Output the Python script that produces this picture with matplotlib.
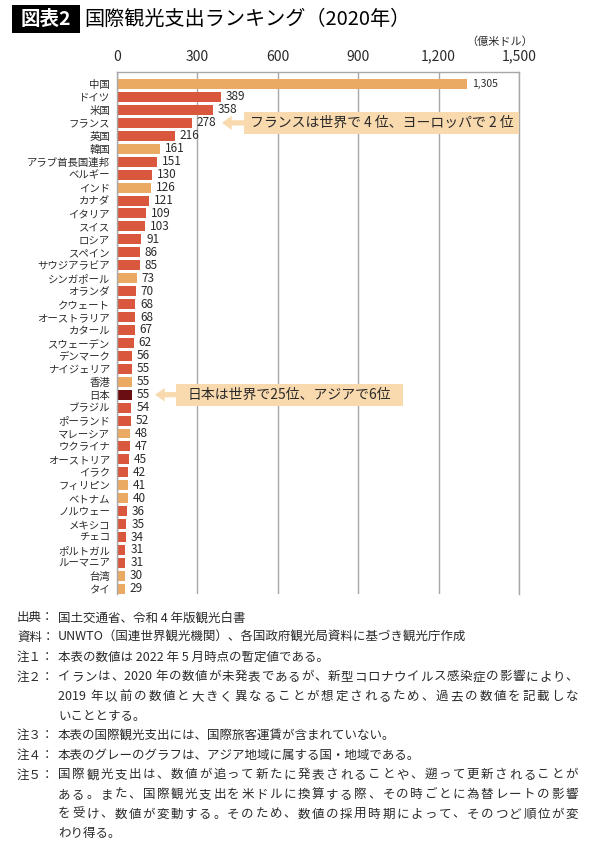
import re
import matplotlib
matplotlib.use('Agg')
import matplotlib.pyplot as plt
from matplotlib.patches import Rectangle, FancyArrow
import numpy as np

plt.rcParams['font.family'] = ['Noto Sans CJK JP', 'DejaVu Sans']

# data (2020, 億米ドル)
countries = ['中国', 'ドイツ', '米国', 'フランス', '英国', '韓国', 'アラブ首長国連邦', 'ベルギー',
             'インド', 'カナダ', 'イタリア', 'スイス', 'ロシア', 'スペイン', 'サウジアラビア',
             'シンガポール', 'オランダ', 'クウェート', 'オーストラリア', 'カタール', 'スウェーデン',
             'デンマーク', 'ナイジェリア', '香港', '日本', 'ブラジル', 'ポーランド', 'マレーシア',
             'ウクライナ', 'オーストリア', 'イラク', 'フィリピン', 'ベトナム', 'ノルウェー',
             'メキシコ', 'チェコ', 'ポルトガル', 'ルーマニア', '台湾', 'タイ']
values = [1305, 389, 358, 278, 216, 161, 151, 130, 126, 121, 109, 103, 91, 86, 85,
          73, 70, 68, 68, 67, 62, 56, 55, 55, 55, 54, 52, 48, 47, 45, 42, 41, 40,
          36, 35, 34, 31, 31, 30, 29]
asia = ['中国', '韓国', 'インド', 'シンガポール', '香港', 'マレーシア', 'フィリピン',
        'ベトナム', '台湾', 'タイ']
xticks = [0, 300, 600, 900, 1200, 1500]
xticklabels = ['0', '300', '600', '900', '1,200', '1,500']

notes = [
    ('出典：', ['国土交通省、令和 4 年版観光白書']),
    ('資料：', ['UNWTO（国連世界観光機関）、各国政府観光局資料に基づき観光庁作成']),
    ('注１：', ['本表の数値は 2022 年 5 月時点の暫定値である。']),
    ('注２：', ['イランは、2020 年の数値が未発表であるが、新型コロナウイルス感染症の影響により、',
              '2019 年以前の数値と大きく異なることが想定されるため、過去の数値を記載しな',
              'いこととする。']),
    ('注３：', ['本表の国際観光支出には、国際旅客運賃が含まれていない。']),
    ('注４：', ['本表のグレーのグラフは、アジア地域に属する国・地域である。']),
    ('注５：', ['国際観光支出は、数値が追って新たに発表されることや、遡って更新されることが',
              'ある。また、国際観光支出を米ドルに換算する際、その時ごとに為替レートの影響',
              'を受け、数値が変動する。そのため、数値の採用時期によって、そのつど順位が変',
              'わり得る。']),
]

RED = '#D9573D'
ORANGE = '#EBAA63'
JAPAN = '#6A0E12'
BOX = '#F9D9AE'
GRID = '#A8A8A8'
TXT = '#2a2a2a'

W, H = 590, 844
fig = plt.figure(figsize=(W / 100, H / 100), dpi=100)

# title
fig.add_artist(Rectangle((12 / W, 1 - 33 / H), 68 / W, 28 / H, transform=fig.transFigure,
                         facecolor='black', edgecolor='none'))
fig.text(46 / W, 1 - 19 / H, '図表2', color='white', fontsize=14, fontweight='bold',
         ha='center', va='center')
fig.text(84 / W, 1 - 19 / H, '国際観光支出ランキング（2020年）', color='black', fontsize=14.5,
         ha='left', va='center')

# chart
ax = fig.add_axes([117 / W, 1 - 594 / H, (519 - 117) / W, (594 - 72) / H])
y = np.arange(len(countries))
colors = [JAPAN if c == '日本' else (ORANGE if c in asia else RED) for c in countries]
ax.barh(y, values, height=0.77, color=colors, zorder=2)

for i, v in enumerate(values):
    ax.annotate(f'{v:,}', (v, i), xytext=(3.5, 0), textcoords='offset points',
                va='center', ha='left', fontsize=7.5 if v >= 1000 else 8.5, color=TXT)

ax.set_xlim(0, 1500)
ax.set_ylim(len(countries) - 0.6, -0.93)
ax.set_xticks(xticks, labels=xticklabels)
ax.set_yticks(y, labels=countries)
ax.xaxis.tick_top()
ax.tick_params(axis='x', length=0, pad=6, labelsize=10, colors=TXT)
ax.tick_params(axis='y', length=0, pad=5, labelsize=7.5, colors=TXT)
ax.grid(axis='x', color=GRID, lw=1)
ax.set_axisbelow(True)
for s in ['top', 'left', 'right']:
    ax.spines[s].set_color(GRID)
    ax.spines[s].set_linewidth(1)
ax.spines['bottom'].set_visible(False)

fig.text(533 / W, 1 - 42 / H, '（億米ドル）', fontsize=8, ha='right', va='center', color=TXT)

# callouts
fr = countries.index('フランス')
ax.add_patch(Rectangle((474, fr - 0.85), 1500 - 474, 1.7, facecolor=BOX, edgecolor='none', zorder=3))
ax.add_patch(FancyArrow(476, fr, -84, 0, width=0.4, head_width=1.1, head_length=36,
                        length_includes_head=True, color=BOX, lw=0, zorder=3))
ax.text((474 + 1500) / 2, fr, 'フランスは世界で 4 位、ヨーロッパで 2 位', ha='center', va='center',
        fontsize=10, color=TXT, zorder=4)

jp = countries.index('日本')
ax.add_patch(Rectangle((220, jp - 0.85), 1067 - 220, 1.7, facecolor=BOX, edgecolor='none', zorder=3))
ax.add_patch(FancyArrow(222, jp, -80, 0, width=0.4, head_width=1.05, head_length=36,
                        length_includes_head=True, color=BOX, lw=0, zorder=3))
ax.text((220 + 1067) / 2, jp, '日本は世界で25位、アジアで6位', ha='center', va='center',
        fontsize=10, color=TXT, zorder=4)

# notes
renderer = fig.canvas.get_renderer()
NOTE_FS = 9


def justified(x0, x1, yy, line):
    # spread tokens over the full line width, like the printed source
    tokens = re.findall(r'[ -~]+|.', line)
    widths = []
    for t in tokens:
        tt = fig.text(0, 0, t, fontsize=NOTE_FS)
        widths.append(tt.get_window_extent(renderer).width)
        tt.remove()
    gap = (x1 - x0 - sum(widths)) / (len(tokens) - 1)
    x = x0
    for t, w in zip(tokens, widths):
        fig.text(x / W, yy, t, fontsize=NOTE_FS, va='center', ha='left', color=TXT)
        x += w + gap


ny = 618
step = 19.6
for head, lines in notes:
    fig.text(17 / W, 1 - ny / H, head, fontsize=NOTE_FS, va='center', ha='left', color=TXT)
    for k, line in enumerate(lines):
        if k < len(lines) - 1:
            justified(58, 578, 1 - ny / H, line)
        else:
            fig.text(58 / W, 1 - ny / H, line, fontsize=NOTE_FS, va='center', ha='left', color=TXT)
        ny += step

fig.savefig('out.png', dpi=100)
